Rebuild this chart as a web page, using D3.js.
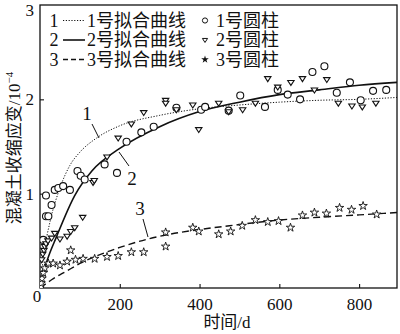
<!DOCTYPE html>
<html><head><meta charset="utf-8">
<script src="https://cdn.jsdelivr.net/npm/d3@7/dist/d3.min.js"></script>
<style>body{margin:0;background:#fff}svg{display:block}</style>
</head><body>
<svg id="c" width="400" height="334"></svg>
<script>
const xTicks = [200, 400, 600, 800];
const yTicks = [1, 2, 3];
const legendLines = ["1号拟合曲线", "2号拟合曲线", "3号拟合曲线"];
const legendMarks = ["1号圆柱", "2号圆柱", "3号圆柱"];
const xTitle = "时间/d";
const yTitle = "混凝土收缩应变/10";

// fitted curves (day, strain ×10^-4)
const fit1 = [[0,0],[5,0.2],[10,0.37],[25,0.7],[50,1.06],[75,1.3],[100,1.44],[142,1.59],[200,1.72],[300,1.83],[400,1.9],[500,1.94],[600,1.97],[700,1.99],[800,2.0],[895,2.02]];
const fit2 = [[0,0],[10,0.18],[17,0.28],[42,0.55],[87,0.98],[130,1.24],[200,1.48],[300,1.71],[400,1.87],[500,1.97],[600,2.05],[700,2.1],[800,2.15],[895,2.18]];
const fit3 = [[0,0],[10,0.03],[30,0.09],[67,0.18],[100,0.26],[142,0.34],[200,0.43],[271,0.52],[325,0.57],[400,0.62],[475,0.66],[600,0.72],[700,0.75],[800,0.775],[895,0.8]];

// measured points
const cyl1 = [[0,0],[8,0.51],[15,0.98],[15,0.76],[21,0.76],[29,0.88],[37,1.04],[46,1.06],[58,1.08],[75,1.04],[94,1.24],[102,1.19],[112,1.15],[162,1.31],[193,1.22],[217,1.55],[254,1.65],[285,1.71],[342,1.91],[404,1.89],[414,1.92],[473,1.88],[502,2.04],[564,1.92],[596,2.1],[621,2.05],[652,2.0],[683,2.29],[713,2.35],[744,2.07],[777,2.18],[804,1.99],[835,2.09],[868,2.1]];
const cyl2 = [[4,0.3],[7,0.36],[10,0.4],[12,0.44],[15,0.47],[20,0.5],[29,0.53],[37,0.58],[50,0.52],[68,0.55],[77,0.6],[87,0.64],[107,0.75],[133,1.12],[136,1.14],[168,1.39],[196,1.59],[229,1.74],[260,1.86],[315,1.99],[315,1.96],[342,1.89],[383,1.94],[398,1.68],[448,1.96],[473,1.87],[508,1.89],[540,1.96],[571,2.22],[596,2.13],[629,2.18],[658,2.22],[688,2.1],[719,2.21],[748,1.96],[782,1.93],[808,1.92],[842,1.96]];
const cyl3 = [[3,0.05],[5,0.1],[8,0.16],[12,0.21],[21,0.26],[33,0.26],[50,0.24],[68,0.28],[77,0.4],[89,0.3],[108,0.31],[137,0.31],[168,0.33],[196,0.34],[229,0.38],[260,0.38],[315,0.44],[315,0.59],[383,0.64],[398,0.6],[448,0.57],[478,0.6],[507,0.66],[540,0.72],[571,0.7],[598,0.71],[628,0.64],[658,0.77],[688,0.8],[718,0.79],[751,0.85],[781,0.83],[810,0.87],[844,0.78]];

const svg = d3.select("#c");
const L = 40, R = 397, T = 5, B = 288;
const x = d3.scaleLinear().domain([0, 895]).range([L, R]);
const y = d3.scaleLinear().domain([0, 3]).range([B, T]);
const serif = "'Liberation Serif','Noto Sans CJK SC',serif";
const ink = "#111";

// frame
svg.append("rect").attr("x", L).attr("y", T).attr("width", R - L).attr("height", B - T)
  .attr("fill", "none").attr("stroke", ink).attr("stroke-width", 1.3);

// axes with inward ticks
const xAxis = d3.axisBottom(x).tickValues(xTicks).tickSize(-4).tickPadding(8).tickFormat(d3.format("d"));
const gx = svg.append("g").attr("transform", `translate(0,${B})`).call(xAxis);
gx.select(".domain").remove();
gx.selectAll("line").attr("stroke", ink).attr("stroke-width", 1.1);
gx.selectAll("text").attr("font-family", serif).attr("font-size", 17).attr("fill", ink).attr("dy", "0.85em");

const yAxis = d3.axisLeft(y).tickValues(yTicks).tickSize(-4).tickPadding(6).tickFormat(d3.format("d"));
const gy = svg.append("g").attr("transform", `translate(${L},0)`).call(yAxis);
gy.select(".domain").remove();
gy.selectAll("line").attr("stroke", ink).attr("stroke-width", 1.1);
gy.selectAll("text").attr("font-family", serif).attr("font-size", 17).attr("fill", ink);
const top3 = gy.selectAll(".tick").filter(d => d === 3);
top3.select("line").remove();
top3.select("text").attr("dy", "0.62em");

svg.append("text").attr("x", x(0) - 3).attr("y", y(0) + 14).attr("text-anchor", "middle")
  .attr("font-family", serif).attr("font-size", 17).attr("fill", ink).text("0");

// titles
svg.append("text").attr("x", 227).attr("y", 328).attr("text-anchor", "middle")
  .attr("font-family", serif).attr("font-size", 17).attr("fill", ink).text(xTitle);
const yt = svg.append("text").attr("transform", "translate(20,148) rotate(-90)").attr("text-anchor", "middle")
  .attr("font-family", serif).attr("font-size", 17).attr("fill", ink);
yt.append("tspan").text(yTitle);
yt.append("tspan").attr("font-size", 11).attr("dy", -7).text("−4");

// curves
const line = d3.line().x(d => x(d[0])).y(d => y(d[1])).curve(d3.curveMonotoneX);
svg.append("clipPath").attr("id", "pc").append("rect").attr("x", L).attr("y", T).attr("width", R - L).attr("height", B - T);
const pg = svg.append("g").attr("clip-path", "url(#pc)");
pg.append("path").datum(fit1).attr("d", line).attr("fill", "none").attr("stroke", ink).attr("stroke-width", 1).attr("stroke-dasharray", "1.2,1.6");
pg.append("path").datum(fit2).attr("d", line).attr("fill", "none").attr("stroke", ink).attr("stroke-width", 1.6);
pg.append("path").datum(fit3).attr("d", line).attr("fill", "none").attr("stroke", ink).attr("stroke-width", 1.4).attr("stroke-dasharray", "7,4");

// markers
const triDown = (cx, cy, s) => `M${cx - s},${cy - s * 0.6}L${cx + s},${cy - s * 0.6}L${cx},${cy + s * 0.95}Z`;
const star = d3.symbol().type(d3.symbolStar).size(22);
pg.selectAll(".c1").data(cyl1).join("circle").attr("cx", d => x(d[0])).attr("cy", d => y(d[1])).attr("r", 3.5)
  .attr("fill", "#fff").attr("stroke", ink).attr("stroke-width", 1.1);
pg.selectAll(".c2").data(cyl2).join("path").attr("d", d => triDown(x(d[0]), y(d[1]), 3.2))
  .attr("fill", "#fff").attr("stroke", ink).attr("stroke-width", 1.1);
pg.selectAll(".c3").data(cyl3).join("path").attr("d", star).attr("transform", d => `translate(${x(d[0])},${y(d[1])})`)
  .attr("fill", "#fff").attr("stroke", ink).attr("stroke-width", 0.9);

// curve labels with leader lines
const labels = [["1", 87, 120, [[92, 124], [99, 138]]], ["2", 132, 185, [[119, 152], [129, 166]]], ["3", 140, 215, [[143, 219], [148, 237]]]];
labels.forEach(([t, lx, ly, seg]) => {
  svg.append("text").attr("x", lx).attr("y", ly).attr("text-anchor", "middle").attr("font-family", serif)
    .attr("font-size", 19).attr("fill", ink).text(t);
  svg.append("line").attr("x1", seg[0][0]).attr("y1", seg[0][1]).attr("x2", seg[1][0]).attr("y2", seg[1][1])
    .attr("stroke", ink).attr("stroke-width", 1);
});

// legend
const rows = [20.5, 40, 59.5];
const dashes = ["1.2,1.6", null, "5,3"];
const widths = [1, 1.6, 1.4];
rows.forEach((ry, i) => {
  svg.append("text").attr("x", 54).attr("y", ry + 6).attr("text-anchor", "middle").attr("font-family", serif)
    .attr("font-size", 18).attr("fill", ink).text(String(i + 1));
  svg.append("line").attr("x1", 63).attr("x2", 85).attr("y1", ry).attr("y2", ry).attr("stroke", ink)
    .attr("stroke-width", widths[i]).attr("stroke-dasharray", dashes[i]);
  svg.append("text").attr("x", 87).attr("y", ry + 6).attr("font-family", serif).attr("font-size", 18)
    .attr("fill", ink).text(legendLines[i]);
  svg.append("text").attr("x", 216).attr("y", ry + 6).attr("font-family", serif).attr("font-size", 18)
    .attr("fill", ink).text(legendMarks[i]);
});
svg.append("circle").attr("cx", 205).attr("cy", rows[0]).attr("r", 2.6).attr("fill", "#fff").attr("stroke", ink).attr("stroke-width", 1);
svg.append("path").attr("d", triDown(205, rows[1], 2.6)).attr("fill", "#fff").attr("stroke", ink).attr("stroke-width", 1);
svg.append("path").attr("d", d3.symbol().type(d3.symbolStar).size(18)()).attr("transform", `translate(205,${rows[2]})`).attr("fill", ink);
</script>
</body></html>
